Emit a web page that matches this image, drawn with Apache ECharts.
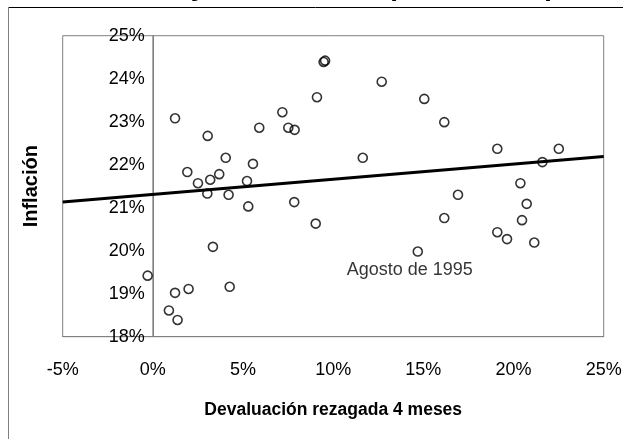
<!DOCTYPE html>
<html>
<head>
<meta charset="utf-8">
<script src="https://cdn.jsdelivr.net/npm/echarts@6/dist/echarts.min.js"></script>
<style>html,body{margin:0;padding:0;background:#fff}#c{width:623px;height:439px}</style>
</head>
<body>
<div id="c"></div>
<script>
var devaluacion = [1.23,3.04,1.91,2.50,3.18,3.68,4.04,5.55,5.22,5.90,7.18,7.51,7.86,9.10,9.47,9.55,12.69,15.05,16.16,11.64,19.10,22.51,21.60,20.38,3.02,4.20,5.29,7.84,9.03,3.33,-0.29,1.23,1.98,4.26,0.89,1.37,16.92,16.16,20.73,20.47,19.10,19.64,21.15,14.69];
var inflacion = [23.08,22.67,21.83,21.57,21.65,21.78,22.16,22.02,21.62,22.86,23.22,22.86,22.81,23.57,24.39,24.42,23.93,23.53,22.99,22.16,22.37,22.37,22.06,21.57,21.33,21.30,21.03,21.13,20.63,20.09,19.42,19.02,19.11,19.16,18.61,18.39,21.30,20.76,21.09,20.71,20.43,20.27,20.19,19.98];
var tendenciaX = [-5, 25];
var tendenciaY = [21.13, 22.19];
var rangoX = [-5, 25];
var rangoY = [18, 25];
var anotacion = {index: 43, text: 'Agosto de 1995'};
var titulo = 'Inflación y Devaluación (1994 - 1997)';
var nombreX = 'Devaluación rezagada 4 meses';
var nombreY = 'Inflación';

var FONT = "'Liberation Sans', Arial, sans-serif";
var puntos = devaluacion.map(function (x, i) {
  var item = {value: [x, inflacion[i]]};
  if (i === anotacion.index) {
    item.label = {show: true, formatter: anotacion.text, position: 'bottom', distance: 4, offset: [-8, 0],
      color: '#000', fontSize: 18, fontFamily: FONT};
  }
  return item;
});
var linea = tendenciaX.map(function (x, i) { return [x, tendenciaY[i]]; });
var lineaCero = rangoY.map(function (y) { return [0, y]; });

var GL = 62.7, GR = 19.3, W = 623;
var plotW = W - GL - GR;
var yOffset = -plotW * (0 - rangoX[0]) / (rangoX[1] - rangoX[0]);

var chart = echarts.init(document.getElementById('c'), null, {renderer: 'canvas'});
chart.setOption({
  animation: false,
  backgroundColor: '#fff',
  graphic: [
    {type: 'line', shape: {x1: 8, y1: 7.5, x2: 623, y2: 7.5}, style: {stroke: '#000', lineWidth: 1}, z: 10},
    {type: 'line', shape: {x1: 8.5, y1: 7, x2: 8.5, y2: 439}, style: {stroke: '#808080', lineWidth: 1}, z: 10},
    {type: 'text', left: 'center', y: 1.5, style: {text: titulo, fontSize: 28, fontWeight: 'bold', fontFamily: FONT, fill: '#000', verticalAlign: 'bottom'}, z: 9}
  ],
  grid: {left: GL, right: GR, top: 35.7, bottom: 102.3, show: true, borderColor: '#808080', borderWidth: 1,
    outerBoundsMode: 'none', containLabel: false},
  xAxis: {
    type: 'value', min: rangoX[0], max: rangoX[1], interval: 5,
    splitLine: {show: false},
    axisLine: {show: true, onZero: false, lineStyle: {color: '#808080'}},
    axisTick: {show: false},
    axisLabel: {formatter: '{value}%', color: '#000', fontSize: 18, fontFamily: FONT, margin: 24},
    name: nombreX, nameLocation: 'middle', nameGap: 64,
    nameTextStyle: {color: '#000', fontSize: 17.5, fontWeight: 'bold', fontFamily: FONT}
  },
  yAxis: {
    type: 'value', min: rangoY[0], max: rangoY[1], interval: 1, position: 'left', offset: yOffset,
    splitLine: {show: false},
    axisLine: {show: true, onZero: false, lineStyle: {color: '#808080'}},
    axisTick: {show: false},
    axisLabel: {formatter: '{value}%', color: '#000', fontSize: 18, fontFamily: FONT, margin: 8},
    name: nombreY, nameLocation: 'middle', nameGap: 111, nameRotate: 90,
    nameTextStyle: {color: '#000', fontSize: 20, fontWeight: 'bold', fontFamily: FONT}
  },
  series: [
    {
      type: 'line', data: lineaCero, showSymbol: false, symbol: 'none',
      lineStyle: {color: '#808080', width: 1}, z: 1, silent: true
    },
    {
      type: 'line', data: linea, showSymbol: false, symbol: 'none',
      lineStyle: {color: '#000', width: 3}, z: 2, silent: true
    },
    {
      type: 'scatter', data: puntos, symbol: 'circle', symbolSize: 9,
      itemStyle: {color: 'rgba(255,255,255,0)', borderColor: '#000', borderWidth: 1.6},
      z: 3
    }
  ]
});
</script>
</body>
</html>
